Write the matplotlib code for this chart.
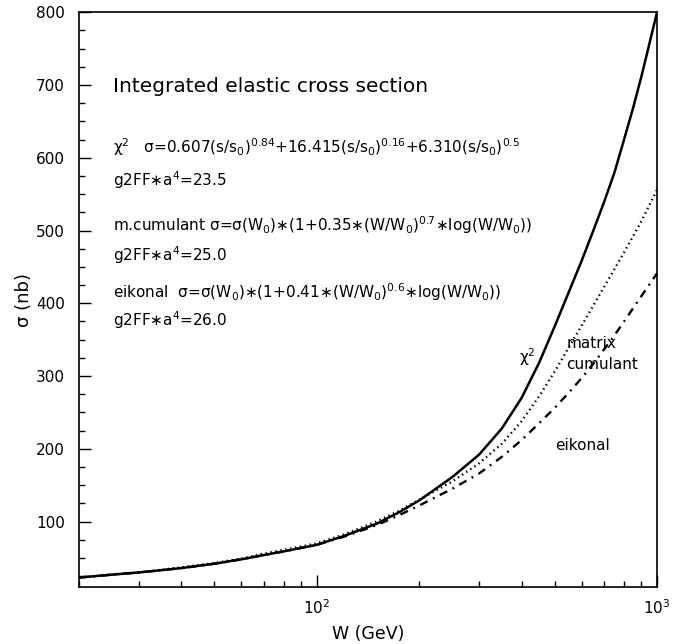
import matplotlib

matplotlib.use("Agg")
import matplotlib.pyplot as plt
from matplotlib.ticker import LogLocator, MultipleLocator, NullFormatter

plt.rcParams["font.family"] = ["DejaVu Sans"]
plt.rcParams["mathtext.default"] = "regular"

# W (GeV) sample points and cross sections (nb)
w_gev = [20, 25, 30, 40, 50, 60, 70, 80, 100, 120, 150, 175, 200, 250, 300, 350,
         400, 450, 500, 550, 600, 650, 700, 750, 800, 850, 900, 950, 1000]
sigma_chi2 = [23, 27, 30, 36, 42, 48, 54, 59, 68, 80, 97, 113, 129, 161, 192, 228,
              270, 318, 368, 415, 458, 500, 540, 580, 625, 668, 712, 757, 800]
sigma_cumulant = [23, 27, 30, 37, 43, 49, 56, 61, 70, 82, 100, 115, 130, 155, 180, 207,
                  238, 272, 306, 339, 369, 397, 423, 447, 470, 492, 513, 535, 556]
sigma_eikonal = [23, 27, 30, 36, 42, 48, 54, 59, 68, 79, 95, 109, 122, 145, 166, 189,
                 212, 235, 256, 277, 297, 317, 337, 356, 375, 393, 410, 426, 441]

fig = plt.figure(figsize=(6.96, 6.44), dpi=100)
ax = fig.add_axes([0.1135, 0.0885, 0.8305, 0.8925])

ax.plot(w_gev, sigma_chi2, color="black", lw=1.8, ls="-")
ax.plot(w_gev, sigma_cumulant, color="black", lw=1.7, ls=(0, (0.6, 1.5)))
ax.plot(w_gev, sigma_eikonal, color="black", lw=1.7, ls=(0, (3.5, 2.5, 0.8, 2.5)))

ax.set_xscale("log")
ax.set_xlim(20, 1000)
ax.set_ylim(10, 800)
ax.yaxis.set_major_locator(MultipleLocator(100))
ax.yaxis.set_minor_locator(MultipleLocator(25))
ax.xaxis.set_major_locator(LogLocator(base=10, numticks=5))
ax.xaxis.set_minor_locator(LogLocator(base=10, subs=range(2, 10), numticks=20))
ax.xaxis.set_minor_formatter(NullFormatter())
ax.tick_params(which="both", direction="in", top=False, right=False, labelsize=11)
ax.tick_params(which="major", length=8.5, width=1)
ax.tick_params(which="minor", length=4.5, width=1)
ax.tick_params(axis="y", pad=10)
ax.tick_params(axis="x", pad=8)
for sp in ax.spines.values():
    sp.set_linewidth(1.2)

ax.set_xlabel("W (GeV)", fontsize=12.5, labelpad=6)
ax.set_ylabel("σ (nb)", fontsize=13, labelpad=2)

fs = 11
ax.text(0.059, 0.871, "Integrated elastic cross section", transform=ax.transAxes,
        fontsize=14.5, va="center", ha="left")
ax.text(0.059, 0.765,
        r"$\chi^2$   σ=0.607(s/s$_0$)$^{0.84}$+16.415(s/s$_0$)$^{0.16}$+6.310(s/s$_0$)$^{0.5}$",
        transform=ax.transAxes, fontsize=fs, va="center", ha="left")
ax.text(0.059, 0.708, r"g2FF∗a$^4$=23.5", transform=ax.transAxes,
        fontsize=fs, va="center", ha="left")
ax.text(0.059, 0.630,
        r"m.cumulant σ=σ(W$_0$)∗(1+0.35∗(W/W$_0$)$^{0.7}$∗log(W/W$_0$))",
        transform=ax.transAxes, fontsize=fs, va="center", ha="left")
ax.text(0.059, 0.578, r"g2FF∗a$^4$=25.0", transform=ax.transAxes,
        fontsize=fs, va="center", ha="left")
ax.text(0.059, 0.513,
        r"eikonal  σ=σ(W$_0$)∗(1+0.41∗(W/W$_0$)$^{0.6}$∗log(W/W$_0$))",
        transform=ax.transAxes, fontsize=fs, va="center", ha="left")
ax.text(0.059, 0.465, r"g2FF∗a$^4$=26.0", transform=ax.transAxes,
        fontsize=fs, va="center", ha="left")

ax.text(0.762, 0.400, r"$\chi^2$", transform=ax.transAxes, fontsize=fs, ha="left", va="center")
ax.text(0.843, 0.424, "matrix", transform=ax.transAxes, fontsize=fs, ha="left", va="center")
ax.text(0.843, 0.387, "cumulant", transform=ax.transAxes, fontsize=fs, ha="left", va="center")
ax.text(0.823, 0.247, "eikonal", transform=ax.transAxes, fontsize=fs, ha="left", va="center")

fig.savefig("out.png", dpi=100)
plt.close(fig)
